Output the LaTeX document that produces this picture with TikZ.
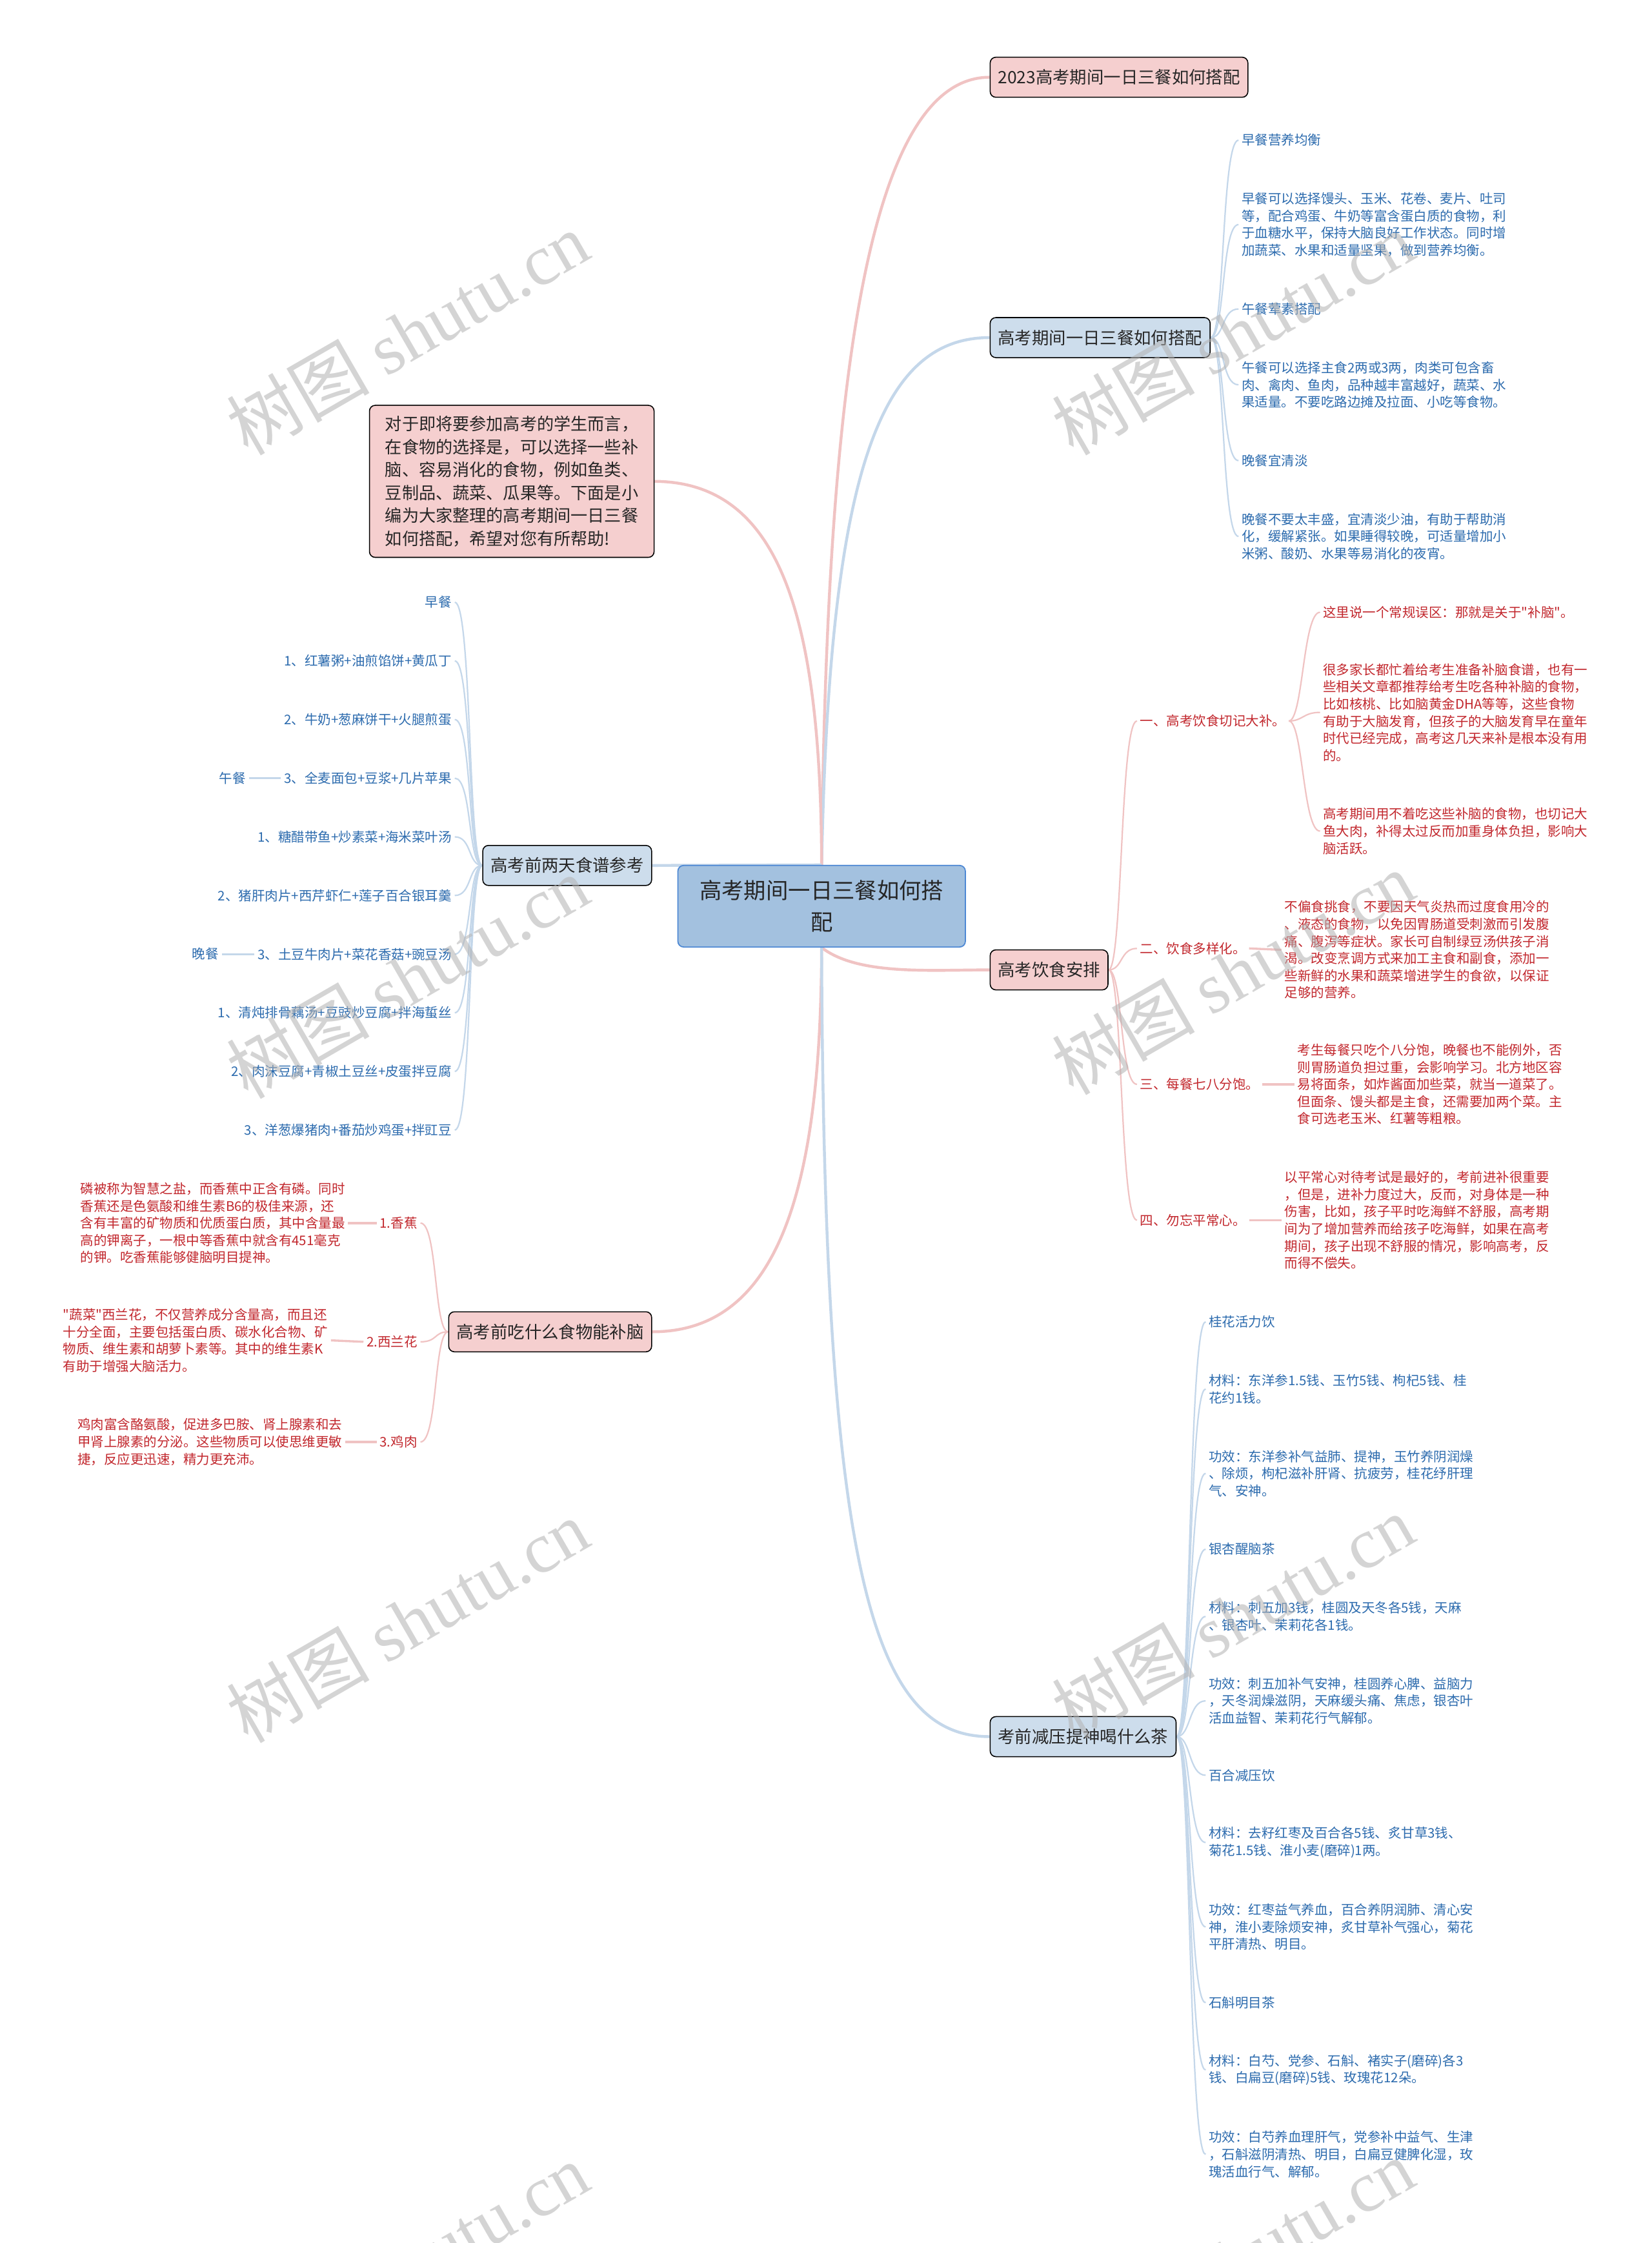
\documentclass[tikz,border=0pt]{standalone}
\usepackage{fontspec}
\setmainfont{Noto Sans CJK SC}
\newfontfamily\qfont{Noto Sans CJK SC}
\newfontfamily\wmfont{Liberation Serif}
\newcommand\qmk{{\qfont\char34}}
\usetikzlibrary{backgrounds}
\definecolor{pinkfill}{HTML}{F5CFCF}
\definecolor{bluefill}{HTML}{CDDDEC}
\definecolor{rootfill}{HTML}{A3C1DF}
\definecolor{rootdraw}{HTML}{4D88D4}
\definecolor{pinkline}{HTML}{F0C3C3}
\definecolor{blueline}{HTML}{C4D7EA}
\definecolor{redtext}{HTML}{C2272D}
\definecolor{bluetext}{HTML}{2C6BAE}
\tikzset{
 lvl/.style={draw=black, line width=0.7pt, rounded corners=4pt, minimum height=28pt, inner xsep=5.5pt, inner ysep=0pt, font=\fontsize{11.9}{14}\selectfont, text=black!85},
 pk/.style={lvl, fill=pinkfill},
 bl/.style={lvl, fill=bluefill},
 dt/.style={inner sep=2pt, align=left, font=\fontsize{9.25}{12}\selectfont},
 bt/.style={dt, text=bluetext, anchor=west},
 rt/.style={dt, text=redtext, anchor=west},
 btr/.style={dt, text=bluetext, anchor=east, align=right},
 rtr/.style={dt, text=redtext, anchor=east, align=right},
 pmain/.style={draw=pinkline, line width=2pt},
 bmain/.style={draw=blueline, line width=2pt},
 psub/.style={draw=pinkline, line width=1pt},
 bsub/.style={draw=blueline, line width=1pt},
 wm/.style={text=black!30, opacity=0.55, rotate=30, font=\fontsize{50}{50}\selectfont},
}
\begin{document}
\begin{tikzpicture}[x=1pt,y=-1pt]
\useasboundingbox (0,0) rectangle (1155,1568);

% root
\node[draw=rootdraw, fill=rootfill, line width=0.8pt, rounded corners=4pt, minimum width=201pt, minimum height=57pt, align=center, text=black!85, font=\fontsize{15.5}{22}\selectfont] (root) at (574.5,633.5) {高考期间一日三餐如何搭\\配};

% level 1
\node[pk, anchor=west] (b1) at (692,54) {2023高考期间一日三餐如何搭配};
\node[bl, anchor=west] (b2) at (692,236) {高考期间一日三餐如何搭配};
\node[pk, anchor=west] (b3) at (692,678) {高考饮食安排};
\node[bl, anchor=west] (b4) at (692,1214) {考前减压提神喝什么茶};
\node[pk, anchor=north west, align=left, font=\fontsize{11.8}{16}\selectfont, inner xsep=6pt, inner ysep=7.5pt, minimum width=199pt] (intro) at (258,283) {对于即将要参加高考的学生而言，\\在食物的选择是，可以选择一些补\\脑、容易消化的食物，例如鱼类、\\豆制品、蔬菜、瓜果等。下面是小\\编为大家整理的高考期间一日三餐\\如何搭配，希望对您有所帮助!};
\node[bl, anchor=east] (b6) at (456,605) {高考前两天食谱参考};
\node[pk, anchor=east] (b7) at (456,931) {高考前吃什么食物能补脑};

% branch 2 children
\node[bt] (c21) at (866,98) {早餐营养均衡};
\node[bt] (c22) at (866,157) {早餐可以选择馒头、玉米、花卷、麦片、吐司\\等，配合鸡蛋、牛奶等富含蛋白质的食物，利\\于血糖水平，保持大脑良好工作状态。同时增\\加蔬菜、水果和适量坚果，做到营养均衡。};
\node[bt] (c23) at (866,216) {午餐荤素搭配};
\node[bt] (c24) at (866,269) {午餐可以选择主食2两或3两，肉类可包含畜\\肉、禽肉、鱼肉，品种越丰富越好，蔬菜、水\\果适量。不要吃路边摊及拉面、小吃等食物。};
\node[bt] (c25) at (866,322) {晚餐宜清淡};
\node[bt] (c26) at (866,375) {晚餐不要太丰盛，宜清淡少油，有助于帮助消\\化，缓解紧张。如果睡得较晚，可适量增加小\\米粥、酸奶、水果等易消化的夜宵。};

% branch 3 children
\node[rt] (s1) at (795,504) {一、高考饮食切记大补。};
\node[rt] (s11) at (923,428) {这里说一个常规误区：那就是关于\qmk 补脑\qmk 。};
\node[rt] (s12) at (923,498) {很多家长都忙着给考生准备补脑食谱，也有一\\些相关文章都推荐给考生吃各种补脑的食物，\\比如核桃、比如脑黄金DHA等等，这些食物\\有助于大脑发育，但孩子的大脑发育早在童年\\时代已经完成，高考这几天来补是根本没有用\\的。};
\node[rt] (s13) at (923,581) {高考期间用不着吃这些补脑的食物，也切记大\\鱼大肉，补得太过反而加重身体负担，影响大\\脑活跃。};
\node[rt] (s2) at (795,663) {二、饮食多样化。};
\node[rt] (s21) at (896,664) {不偏食挑食，不要因天气炎热而过度食用冷的\\、液态的食物，以免因胃肠道受刺激而引发腹\\痛、腹泻等症状。家长可自制绿豆汤供孩子消\\渴。改变烹调方式来加工主食和副食，添加一\\些新鲜的水果和蔬菜增进学生的食欲，以保证\\足够的营养。};
\node[rt] (s3) at (795,758) {三、每餐七八分饱。};
\node[rt] (s31) at (905,758) {考生每餐只吃个八分饱，晚餐也不能例外，否\\则胃肠道负担过重，会影响学习。北方地区容\\易将面条，如炸酱面加些菜，就当一道菜了。\\但面条、馒头都是主食，还需要加两个菜。主\\食可选老玉米、红薯等粗粮。};
\node[rt] (s4) at (795,853) {四、勿忘平常心。};
\node[rt] (s41) at (896,853) {以平常心对待考试是最好的，考前进补很重要\\，但是，进补力度过大，反而，对身体是一种\\伤害，比如，孩子平时吃海鲜不舒服，高考期\\间为了增加营养而给孩子吃海鲜，如果在高考\\期间，孩子出现不舒服的情况，影响高考，反\\而得不偿失。};

% branch 4 children
\node[bt] (t1) at (843,924) {桂花活力饮};
\node[bt] (t2) at (843,971) {材料：东洋参1.5钱、玉竹5钱、枸杞5钱、桂\\花约1钱。};
\node[bt] (t3) at (843,1030) {功效：东洋参补气益肺、提神，玉竹养阴润燥\\、除烦，枸杞滋补肝肾、抗疲劳，桂花纾肝理\\气、安神。};
\node[bt] (t4) at (843,1083) {银杏醒脑茶};
\node[bt] (t5) at (843,1130) {材料：刺五加3钱，桂圆及天冬各5钱，天麻\\、银杏叶、茉莉花各1钱。};
\node[bt] (t6) at (843,1189) {功效：刺五加补气安神，桂圆养心脾、益脑力\\，天冬润燥滋阴，天麻缓头痛、焦虑，银杏叶\\活血益智、茉莉花行气解郁。};
\node[bt] (t7) at (843,1241) {百合减压饮};
\node[bt] (t8) at (843,1288) {材料：去籽红枣及百合各5钱、炙甘草3钱、\\菊花1.5钱、淮小麦(磨碎)1两。};
\node[bt] (t9) at (843,1347) {功效：红枣益气养血，百合养阴润肺、清心安\\神，淮小麦除烦安神，炙甘草补气强心，菊花\\平肝清热、明目。};
\node[bt] (t10) at (843,1400) {石斛明目茶};
\node[bt] (t11) at (843,1447) {材料：白芍、党参、石斛、褚实子(磨碎)各3\\钱、白扁豆(磨碎)5钱、玫瑰花12朵。};
\node[bt] (t12) at (843,1506) {功效：白芍养血理肝气，党参补中益气、生津\\，石斛滋阴清热、明目，白扁豆健脾化湿，玫\\瑰活血行气、解郁。};

% left branch 6 children
\node[btr] (l1) at (318,421) {早餐};
\node[btr] (l2) at (318,462) {1、红薯粥+油煎馅饼+黄瓜丁};
\node[btr] (l3) at (318,503) {2、牛奶+葱麻饼干+火腿煎蛋};
\node[btr] (l4) at (318,544) {3、全麦面包+豆浆+几片苹果};
\node[btr] (lunch) at (174,544) {午餐};
\node[btr] (l5) at (318,585) {1、糖醋带鱼+炒素菜+海米菜叶汤};
\node[btr] (l6) at (318,626) {2、猪肝肉片+西芹虾仁+莲子百合银耳羹};
\node[btr] (l7) at (318,667) {3、土豆牛肉片+菜花香菇+豌豆汤};
\node[btr] (dinner) at (155,667) {晚餐};
\node[btr] (l8) at (318,708) {1、清炖排骨藕汤+豆豉炒豆腐+拌海蜇丝};
\node[btr] (l9) at (318,749) {2、肉沫豆腐+青椒土豆丝+皮蛋拌豆腐};
\node[btr] (l10) at (318,790) {3、洋葱爆猪肉+番茄炒鸡蛋+拌豇豆};

% left branch 7 children
\node[rtr] (f1) at (294,855) {1.香蕉};
\node[rt] (f1t) at (54,855) {磷被称为智慧之盐，而香蕉中正含有磷。同时\\香蕉还是色氨酸和维生素B6的极佳来源，还\\含有丰富的矿物质和优质蛋白质，其中含量最\\高的钾离子，一根中等香蕉中就含有451毫克\\的钾。吃香蕉能够健脑明目提神。};
\node[rtr] (f2) at (294,938) {2.西兰花};
\node[rt] (f2t) at (42,937) {\qmk 蔬菜\qmk 西兰花，不仅营养成分含量高，而且还\\十分全面，主要包括蛋白质、碳水化合物、矿\\物质、维生素和胡萝卜素等。其中的维生素K\\有助于增强大脑活力。};
\node[rtr] (f3) at (294,1008) {3.鸡肉};
\node[rt] (f3t) at (52,1008) {鸡肉富含酪氨酸，促进多巴胺、肾上腺素和去\\甲肾上腺素的分泌。这些物质可以使思维更敏\\捷，反应更迅速，精力更充沛。};

\begin{scope}[on background layer]
\fill[white] (0,0) rectangle (1155,1568);
% root connectors
\draw[pmain] (root.north) .. controls (578,250) and (610,54) .. (b1.west);
\draw[bmain] (root.north) .. controls (580,330) and (615,236) .. (b2.west);
\draw[pmain] (intro.east) .. controls (545,337) and (574,430) .. (root.north);
\draw[bmain] (b6.east) -- (root.north);
\draw[pmain] (root.south) .. controls (600,682) and (650,678) .. (b3.west);
\draw[pmain] (b7.east) .. controls (545,931) and (574,830) .. (root.south);
\draw[bmain] (root.south) .. controls (576,1100) and (610,1214) .. (b4.west);
% fans
\foreach \c in {c21,c22,c23,c24,c25,c26}
  \draw[bsub] (b2.east) .. controls +(10,0) and +(-12,0) .. (\c.west);
\foreach \c in {s1,s2,s3,s4}
  \draw[psub] (b3.east) .. controls +(10,0) and +(-12,0) .. (\c.west);
\foreach \c in {s11,s12,s13}
  \draw[psub] (s1.east) .. controls +(10,0) and +(-12,0) .. (\c.west);
\draw[psub, line width=1.5pt] (s2.east) -- (s21.west);
\draw[psub, line width=1.5pt] (s3.east) -- (s31.west);
\draw[psub, line width=1.5pt] (s4.east) -- (s41.west);
\foreach \c in {t1,t2,t3,t4,t5,t6,t7,t8,t9,t10,t11,t12}
  \draw[bsub] (b4.east) .. controls +(10,0) and +(-12,0) .. (\c.west);
\foreach \c in {l1,l2,l3,l4,l5,l6,l7,l8,l9,l10}
  \draw[bsub] (b6.west) .. controls +(-10,0) and +(12,0) .. (\c.east);
\draw[bsub, line width=1.5pt] (l4.west) -- (lunch.east);
\draw[bsub, line width=1.5pt] (l7.west) -- (dinner.east);
\foreach \c in {f1,f2,f3}
  \draw[psub] (b7.west) .. controls +(-10,0) and +(12,0) .. (\c.east);
\draw[psub, line width=1.5pt] (f1t.east) -- (f1.west);
\draw[psub, line width=1.5pt] (f2t.east) -- (f2.west);
\draw[psub, line width=1.5pt] (f3t.east) -- (f3.west);
\end{scope}

% watermarks
\node[wm] (w1) at (285,233) {树图 {\wmfont shutu.cn}};
\node[wm] (w2) at (862,233) {树图 {\wmfont shutu.cn}};
\node[wm] (w3) at (285,683) {树图 {\wmfont shutu.cn}};
\node[wm] (w4) at (862,680) {树图 {\wmfont shutu.cn}};
\node[wm] (w5) at (285,1133) {树图 {\wmfont shutu.cn}};
\node[wm] (w6) at (862,1130) {树图 {\wmfont shutu.cn}};
\node[wm] (w7) at (285,1583) {树图 {\wmfont shutu.cn}};
\node[wm] (w8) at (862,1580) {树图 {\wmfont shutu.cn}};
\end{tikzpicture}
\end{document}
